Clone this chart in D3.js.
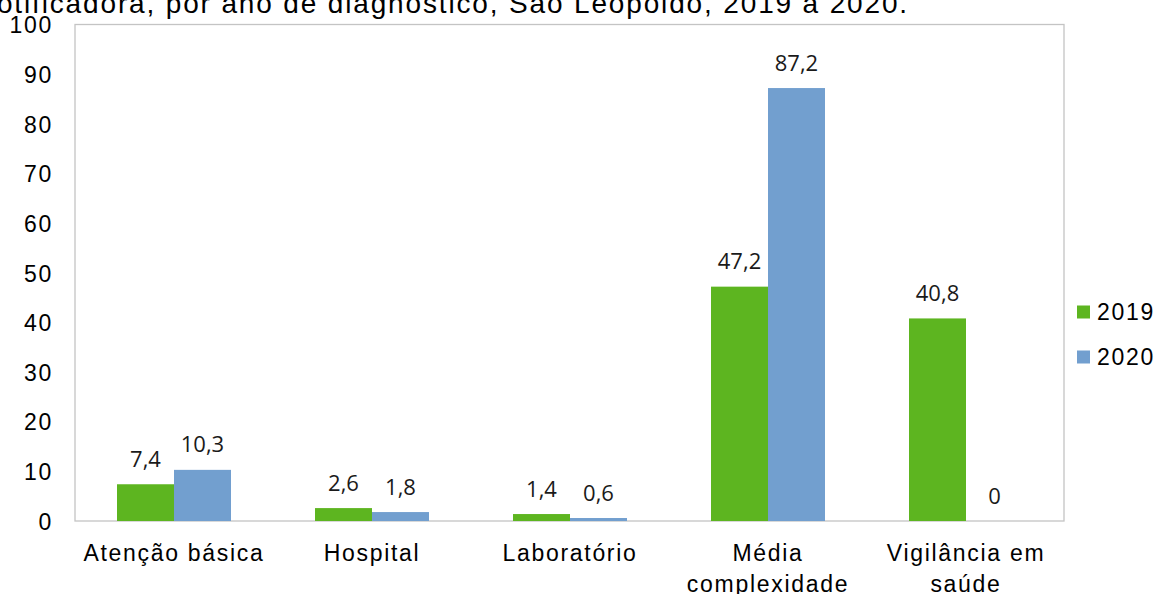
<!DOCTYPE html>
<html><head><meta charset="utf-8">
<script src="https://cdn.jsdelivr.net/npm/d3@7"></script>
<style>
html,body{margin:0;padding:0;background:#fff;overflow:hidden;}
</style>
</head><body>
<svg id="chart" width="1157" height="594"></svg>
<script>
const titleText = "notificadora, por ano de diagnóstico, São Leopoldo, 2019 a 2020.";
const categories = ["Atenção básica", "Hospital", "Laboratório", "Média complexidade", "Vigilância em saúde"];
const categoryLines = [["Atenção básica"], ["Hospital"], ["Laboratório"], ["Média", "complexidade"], ["Vigilância em", "saúde"]];
const series = ["2019", "2020"];
const values2019 = [7.4, 2.6, 1.4, 47.2, 40.8];
const values2020 = [10.3, 1.8, 0.6, 87.2, 0];
const valueLabels2019 = ["7,4", "2,6", "1,4", "47,2", "40,8"];
const valueLabels2020 = ["10,3", "1,8", "0,6", "87,2", "0"];
const yTicks = [0, 10, 20, 30, 40, 50, 60, 70, 80, 90, 100];
const colors = ["#5db520", "#729fcf"];

const svg = d3.select("#chart");
const m = {left: 75, right: 1065, top: 24.5, bottom: 521};

const x0 = d3.scaleBand().domain(categories).range([m.left, m.right]).padding(0);
const x1 = d3.scaleBand().domain(series).range([0, x0.bandwidth()]).paddingInner(0).paddingOuter(0.737);
const y = d3.scaleLinear().domain([0, 100]).range([m.bottom, m.top]);
const color = d3.scaleOrdinal().domain(series).range(colors);

const axisFont = "'Liberation Sans', Arial, sans-serif";
const valFont = "'Open Sans', 'Noto Sans', sans-serif";

// title (cropped at top)
svg.append("text")
  .attr("x", 909).attr("y", 13)
  .attr("text-anchor", "end")
  .attr("font-family", axisFont).attr("font-size", 28)
  .attr("letter-spacing", 1.85)
  .attr("fill", "#000")
  .text(titleText);

// frame
svg.append("rect")
  .attr("x", m.left).attr("y", m.top)
  .attr("width", 1064 - m.left).attr("height", m.bottom - m.top)
  .attr("fill", "none").attr("stroke", "#c4c4c4").attr("stroke-width", 1.3);

// y axis
const yAxis = d3.axisLeft(y).tickValues(yTicks).tickSize(0).tickPadding(0).tickFormat(d3.format("d"));
const gy = svg.append("g").attr("transform", "translate(53,0)").call(yAxis);
gy.select(".domain").remove();
gy.selectAll("text")
  .attr("font-family", axisFont).attr("font-size", 23)
  .attr("letter-spacing", 1.7).attr("fill", "#000").attr("dy", "0.36em");

// x axis labels
const xAxis = d3.axisBottom(x0).tickSize(0).tickFormat(() => "");
const gx = svg.append("g").attr("transform", `translate(0,${m.bottom})`).call(xAxis);
gx.select(".domain").remove();
gx.selectAll(".tick").each(function(d, i) {
  const t = d3.select(this).append("text")
    .attr("font-family", axisFont).attr("font-size", 23)
    .attr("letter-spacing", 1.7).attr("fill", "#000")
    .attr("text-anchor", "middle");
  categoryLines[i].forEach((line, j) => {
    t.append("tspan").attr("x", 0).attr("y", 40 + j * 31).text(line);
  });
});

// bars
const data = categories.map((c, i) => ({
  cat: c,
  vals: [
    {s: "2019", v: values2019[i], lab: valueLabels2019[i]},
    {s: "2020", v: values2020[i], lab: valueLabels2020[i]}
  ]
}));

const groups = svg.append("g").selectAll("g").data(data).join("g")
  .attr("transform", d => `translate(${x0(d.cat)},0)`);

groups.selectAll("rect").data(d => d.vals).join("rect")
  .attr("x", d => x1(d.s))
  .attr("y", d => y(d.v))
  .attr("width", x1.bandwidth())
  .attr("height", d => y(0) - y(d.v))
  .attr("fill", d => color(d.s));

groups.selectAll("text.val").data(d => d.vals).join("text")
  .attr("class", "val")
  .attr("x", d => x1(d.s) + x1.bandwidth() / 2)
  .attr("y", d => y(d.v) - 17.5)
  .attr("text-anchor", "middle")
  .attr("font-family", valFont).attr("font-size", 22)
  .attr("fill", "#1a1a1a")
  .text(d => d.lab);

// legend
const legend = svg.append("g").selectAll("g").data(series).join("g")
  .attr("transform", (d, i) => `translate(1077,${312 + i * 45})`);
legend.append("rect").attr("x", 0).attr("y", -6.5).attr("width", 13).attr("height", 13)
  .attr("fill", d => color(d));
legend.append("text").attr("x", 20).attr("y", 0).attr("dy", "0.36em")
  .attr("font-family", axisFont).attr("font-size", 23).attr("letter-spacing", 1.7)
  .attr("fill", "#000").text(d => d);
</script>
</body></html>
